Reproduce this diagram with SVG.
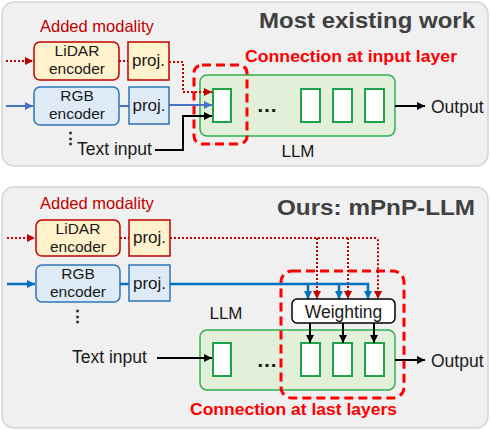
<svg xmlns="http://www.w3.org/2000/svg" width="490" height="430" viewBox="0 0 490 430">
<defs>
<style>
.panel{fill:#f0f0f0;stroke:#d4d4d4;stroke-width:1.5}
.t{font-family:"Liberation Sans",Arial,sans-serif;fill:#1a1a1a}
.enc{font-family:"Liberation Sans",Arial,sans-serif;fill:#1a1a1a;font-size:15.5px;text-anchor:middle}
.title{font-family:"Liberation Sans",Arial,sans-serif;font-weight:bold;font-size:22px;fill:#404040;text-anchor:end}
.mod{font-family:"Liberation Sans",Arial,sans-serif;font-size:16.5px;fill:#c00000}
.conn{font-family:"Liberation Sans",Arial,sans-serif;font-weight:bold;font-size:16px;fill:#ff0000}
.lidar{fill:#fff2cc;stroke:#c00000;stroke-width:1.5}
.rgb{fill:#deebf7;stroke:#2e75b6;stroke-width:1.5}
.llm{fill:#e2f0d9;stroke:#2fb050;stroke-width:1.5}
.layer{fill:#ffffff;stroke:#1fa34a;stroke-width:2}
.dash{fill:none;stroke:#ff0000;stroke-width:3;stroke-dasharray:9 5}
.red{fill:none;stroke:#c00000;stroke-width:2;stroke-dasharray:2 2}
.blue{fill:none;stroke:#4472c4;stroke-width:2}
.blue2{fill:none;stroke:#0070c0;stroke-width:2.5}
.blk{fill:none;stroke:#000;stroke-width:2}
</style>
<marker id="ar" viewBox="0 0 10 10" refX="10" refY="5" markerWidth="9" markerHeight="8" markerUnits="userSpaceOnUse" orient="auto"><path d="M0,0 L10,5 L0,10 z" fill="#c00000"/></marker>
<marker id="ab" viewBox="0 0 10 10" refX="10" refY="5" markerWidth="9" markerHeight="8" markerUnits="userSpaceOnUse" orient="auto"><path d="M0,0 L10,5 L0,10 z" fill="#4472c4"/></marker>
<marker id="ab2" viewBox="0 0 10 10" refX="10" refY="5" markerWidth="9" markerHeight="8" markerUnits="userSpaceOnUse" orient="auto"><path d="M0,0 L10,5 L0,10 z" fill="#0070c0"/></marker>
<marker id="ak" viewBox="0 0 10 10" refX="10" refY="5" markerWidth="9" markerHeight="8" markerUnits="userSpaceOnUse" orient="auto"><path d="M0,0 L10,5 L0,10 z" fill="#000"/></marker>
</defs>

<!-- Top panel -->
<g id="panel-top">
<rect class="panel" x="2" y="2" width="486" height="164" rx="12"/>
<text class="title" x="475" y="28" textLength="216" lengthAdjust="spacingAndGlyphs">Most existing work</text>
<text class="mod" x="40" y="32">Added modality</text>
<text class="conn" x="245" y="62" textLength="212" lengthAdjust="spacingAndGlyphs">Connection at input layer</text>
</g>
<g id="lidar-enc-top">
<rect class="lidar" x="34" y="42" width="85" height="38" rx="6"/>
<text class="enc" x="77" y="56">LiDAR</text>
<text class="enc" x="77" y="74">encoder</text>
</g>
<g id="lidar-proj-top">
<rect class="lidar" x="128" y="42" width="41" height="38"/>
<text class="t" x="148.5" y="66" font-size="17" text-anchor="middle">proj.</text>
</g>
<g id="rgb-enc-top">
<rect class="rgb" x="34" y="87" width="85" height="38" rx="6"/>
<text class="enc" x="77" y="101">RGB</text>
<text class="enc" x="77" y="119">encoder</text>
</g>
<g id="rgb-proj-top">
<rect class="rgb" x="129" y="87" width="40" height="37"/>
<text class="t" x="149" y="111" font-size="17" text-anchor="middle">proj.</text>
</g>
<g id="dots-top"><text class="t" x="70" y="144" font-size="17" font-weight="bold" text-anchor="middle">⋮</text></g>
<g id="text-input-top"><text class="t" x="77" y="155" font-size="17.5">Text input</text></g>
<g id="llm-top">
<rect class="llm" x="200" y="75" width="195" height="61" rx="7"/>
<rect class="layer" x="213" y="89" width="18" height="33"/>
<text class="t" x="267" y="112" font-size="21" font-weight="bold" text-anchor="middle">…</text>
<rect class="layer" x="301" y="89" width="19" height="33"/>
<rect class="layer" x="333" y="89" width="19" height="33"/>
<rect class="layer" x="365" y="89" width="19" height="33"/>
<text class="t" x="298" y="157" font-size="17" text-anchor="middle">LLM</text>
</g>
<g id="conn-box-top"><rect class="dash" x="194" y="65" width="53" height="79" rx="8"/></g>
<g id="output-top"><text class="t" x="431" y="113" font-size="17.5">Output</text></g>

<!-- Bottom panel -->
<g id="panel-bottom">
<rect class="panel" x="2" y="187" width="486" height="241" rx="12"/>
<text class="title" x="475" y="215" textLength="198" lengthAdjust="spacingAndGlyphs">Ours: mPnP-LLM</text>
<text class="mod" x="40" y="209">Added modality</text>
<text class="conn" x="190" y="415" textLength="207" lengthAdjust="spacingAndGlyphs">Connection at last layers</text>
</g>
<g id="lidar-enc-bot">
<rect class="lidar" x="36" y="220" width="84" height="36" rx="6"/>
<text class="enc" x="78" y="234">LiDAR</text>
<text class="enc" x="78" y="252">encoder</text>
</g>
<g id="lidar-proj-bot">
<rect class="lidar" x="129" y="220" width="41" height="36"/>
<text class="t" x="149.5" y="243" font-size="17" text-anchor="middle">proj.</text>
</g>
<g id="rgb-enc-bot">
<rect class="rgb" x="36" y="265" width="84" height="37" rx="6"/>
<text class="enc" x="78" y="279">RGB</text>
<text class="enc" x="78" y="297">encoder</text>
</g>
<g id="rgb-proj-bot">
<rect class="rgb" x="129" y="265" width="41" height="36"/>
<text class="t" x="149.5" y="289" font-size="17" text-anchor="middle">proj.</text>
</g>
<g id="dots-bot"><text class="t" x="77" y="322" font-size="17" font-weight="bold" text-anchor="middle">⋮</text></g>
<g id="text-input-bot"><text class="t" x="72" y="363" font-size="17.5">Text input</text></g>
<g id="llm-bot">
<rect class="llm" x="200" y="330" width="195" height="60" rx="7"/>
<rect class="layer" x="213" y="343" width="18" height="33"/>
<text class="t" x="267" y="367" font-size="21" font-weight="bold" text-anchor="middle">…</text>
<rect class="layer" x="301" y="343" width="19" height="33"/>
<rect class="layer" x="333" y="343" width="19" height="33"/>
<rect class="layer" x="365" y="343" width="19" height="33"/>
<text class="t" x="226" y="319" font-size="17" text-anchor="middle">LLM</text>
</g>
<g id="conn-box-bot"><rect class="dash" x="281" y="271" width="123" height="127" rx="11"/></g>
<g id="output-bot"><text class="t" x="431" y="367" font-size="17.5">Output</text></g>

<!-- Connectors -->
<g id="connectors">
<path class="red" d="M6,61 H33" marker-end="url(#ar)"/>
<path class="red" d="M119,61 H128"/>
<path class="red" d="M169,62 H183 V92 H212" marker-end="url(#ar)"/>
<path class="blue" d="M6,106 H33" marker-end="url(#ab)"/>
<path class="blue" d="M119,106 H129"/>
<path class="blue" d="M169,105 H212" marker-end="url(#ab)"/>
<path class="blk" d="M155,150 H183 V116 H212" marker-end="url(#ak)"/>
<path class="blk" d="M395,106 H425" marker-end="url(#ak)"/>

<path class="red" d="M7,238 H35" marker-end="url(#ar)"/>
<path class="red" d="M120,238 H129"/>
<path class="red" d="M170,238 H375 Q378,238 378,241 V299" marker-end="url(#ar)"/>
<path class="red" d="M317,238 V299" marker-end="url(#ar)"/>
<path class="red" d="M348,238 V299" marker-end="url(#ar)"/>
<path class="blue2" d="M7,284 H35" marker-end="url(#ab2)"/>
<path class="blue2" d="M120,284 H129"/>
<path class="blue2" d="M170,284 H368 V299" marker-end="url(#ab2)"/>
<path class="blue2" d="M308,284 V299" marker-end="url(#ab2)"/>
<path class="blue2" d="M339,284 V299" marker-end="url(#ab2)"/>
<path class="blk" d="M157,358 H212" marker-end="url(#ak)"/>
<path class="blk" d="M310,323 V343" marker-end="url(#ak)"/>
<path class="blk" d="M343,323 V343" marker-end="url(#ak)"/>
<path class="blk" d="M374,323 V343" marker-end="url(#ak)"/>
<path class="blk" d="M395,360 H425" marker-end="url(#ak)"/>
</g>

<g id="weighting">
<rect x="292" y="299" width="103" height="24" rx="5" fill="#fff" stroke="#000" stroke-width="1.5"/>
<text class="t" x="343.5" y="318" font-size="17.5" text-anchor="middle">Weighting</text>
</g>
</svg>
